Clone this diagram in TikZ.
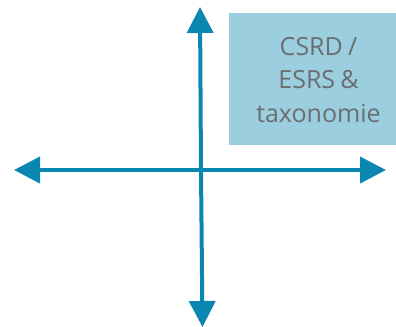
\documentclass[tikz,border=0pt]{standalone}
\usepackage{fontspec}
\setmainfont[WordSpace=0.8]{Open Sans}
\usetikzlibrary{arrows.meta}
\definecolor{axisblue}{HTML}{0A87B0}
\definecolor{boxblue}{HTML}{9BCFDF}
\definecolor{txtgrey}{HTML}{6B6E70}
\tikzset{
  axisarrow/.style={draw=axisblue,line width=4bp,-{Triangle[length=26bp,width=26bp,fill=axisblue]}},
  labelbox/.style={text=txtgrey,align=center,inner sep=0pt,font=\fontsize{25bp}{33.5bp}\selectfont}
}
\begin{document}
\begin{tikzpicture}[x=1bp,y=-1bp]
\useasboundingbox (0,0) rectangle (396,327);
\coordinate (t) at (200,7);
\coordinate (b) at (202.5,327);
\coordinate (l) at (14,170);
\coordinate (r) at (386,170);
\coordinate (boxnw) at (229,13);
\coordinate (boxse) at (396,145);
\fill[boxblue] (boxnw) rectangle (boxse);
\node[labelbox] (lbl) at (318.5,80) {CSRD /\\ESRS \&\\taxonomie};
\draw[axisarrow] (201,170) -- (t);
\draw[axisarrow] (201,170) -- (b);
\draw[axisarrow] (201,170) -- (l);
\draw[axisarrow] (201,170) -- (r);
\end{tikzpicture}
\end{document}
